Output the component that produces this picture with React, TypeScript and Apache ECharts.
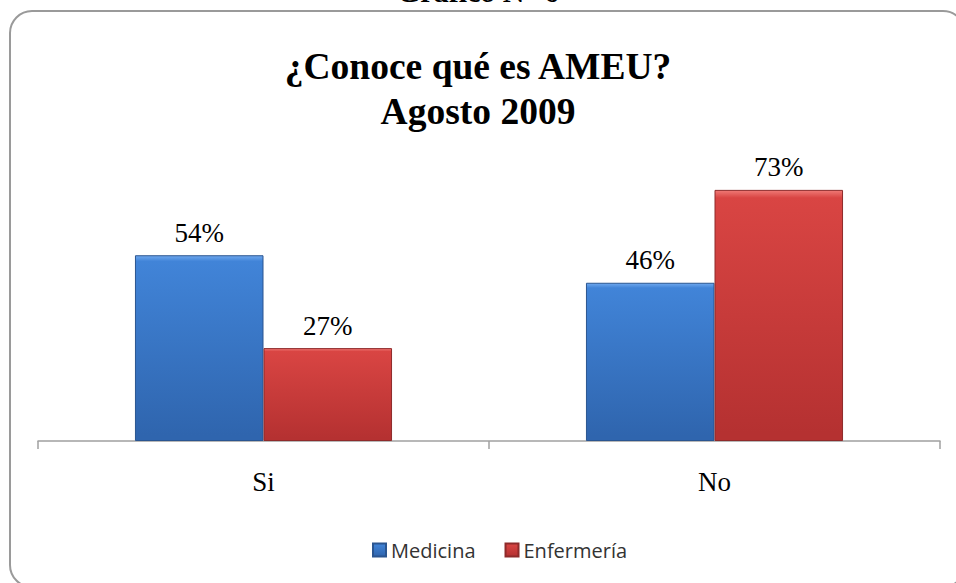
import React, { useEffect, useRef } from "react";
import * as echarts from "echarts";

const categories = ["Si", "No"];
const seriesNames = ["Medicina", "Enfermería"];
const medicina = [0.54, 0.46];
const enfermeria = [0.27, 0.73];

const SERIF = "'Liberation Serif', 'Times New Roman', serif";

export default function App() {
  const ref = useRef<HTMLDivElement>(null);
  useEffect(() => {
    if (!ref.current) return;
    const chart = echarts.init(ref.current, null, { renderer: "svg" });
    const grad = (top: string, mid: string, bottom: string) =>
      new echarts.graphic.LinearGradient(0, 0, 0, 1, [
        { offset: 0, color: top },
        { offset: 0.03, color: mid },
        { offset: 0.97, color: bottom },
        { offset: 1, color: bottom },
      ]);
    const label = {
      show: true,
      position: "top" as const,
      distance: 9,
      fontFamily: SERIF,
      fontSize: 27,
      color: "#000",
      formatter: (p: any) => Math.round(p.value * 100) + "%",
    };
    const titleStyle = (size: number) => ({
      fontFamily: SERIF,
      fontWeight: "bold" as const,
      fontSize: size,
      lineHeight: size,
      color: "#000",
    });
    chart.setOption({
      animation: false,
      backgroundColor: "#fff",
      title: [
        {
          text: "Gráfico N° 6",
          left: "center",
          top: -24,
          padding: 0,
          textStyle: titleStyle(30),
        },
        {
          text: "¿Conoce qué es AMEU?",
          left: "center",
          top: 48,
          padding: 0,
          textStyle: titleStyle(37.5),
        },
        {
          text: "Agosto 2009",
          left: "center",
          top: 93,
          padding: 0,
          textStyle: titleStyle(37.5),
        },
      ],
      graphic: [
        {
          type: "rect",
          shape: { x: 10, y: 11, width: 955, height: 576, r: 22 },
          style: { fill: "none", stroke: "#9a9a9a", lineWidth: 2 },
          z: -1,
        },
      ],
      grid: { left: 38, right: 16, top: 97, bottom: 142 },
      legend: {
        data: seriesNames,
        top: 535,
        left: 367,
        itemWidth: 13,
        itemHeight: 13,
        itemGap: 29,
        icon: "rect",
        textStyle: { fontFamily: "Open Sans", fontSize: 20, color: "#333" },
      },
      xAxis: {
        type: "category",
        data: categories,
        axisLine: { lineStyle: { color: "#a0a0a0", width: 1.5 } },
        axisTick: { show: true, length: 8, lineStyle: { color: "#a0a0a0", width: 1.5 } },
        axisLabel: {
          fontFamily: SERIF,
          fontSize: 27,
          color: "#000",
          margin: 27,
        },
      },
      yAxis: {
        type: "value",
        min: 0,
        max: 1,
        show: false,
        splitLine: { show: false },
      },
      series: [
        {
          name: seriesNames[0],
          type: "bar",
          data: medicina,
          barGap: "0%",
          barCategoryGap: "43%",
          itemStyle: {
            color: grad("#6fa8ee", "#4184d8", "#2f65ae"),
            borderColor: "#2a5590",
            borderWidth: 1,
          },
          label,
        },
        {
          name: seriesNames[1],
          type: "bar",
          data: enfermeria,
          barGap: "0%",
          barCategoryGap: "43%",
          itemStyle: {
            color: grad("#f07a76", "#d94543", "#b53131"),
            borderColor: "#8e2a2a",
            borderWidth: 1,
          },
          label,
        },
      ],
    });
    return () => chart.dispose();
  }, []);
  return (
    <div
      ref={ref}
      style={{ position: "absolute", left: 0, top: 0, width: 956, height: 583 }}
    />
  );
}
